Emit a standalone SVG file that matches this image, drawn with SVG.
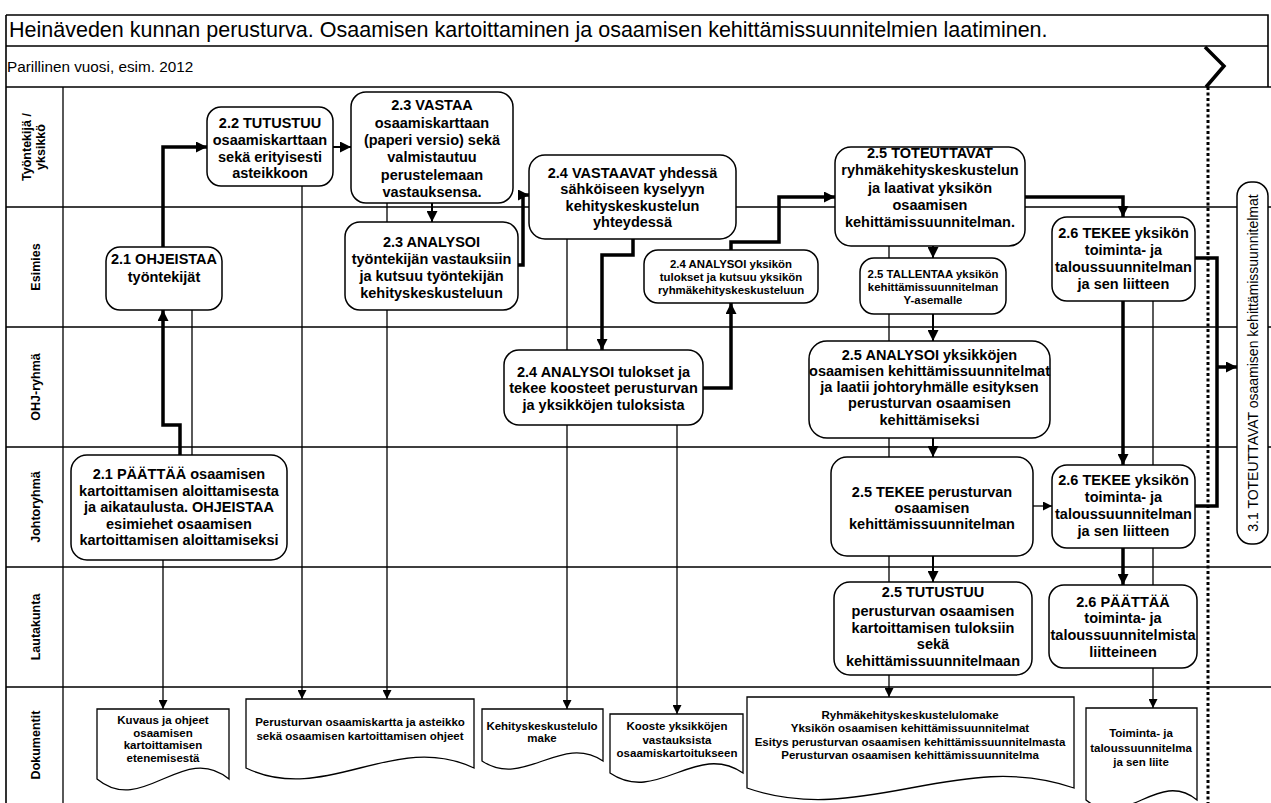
<svg xmlns="http://www.w3.org/2000/svg" width="1271" height="803" viewBox="0 0 1271 803">
<style>
.frame{stroke:#000;stroke-width:1.6;fill:none}
.lane{stroke:#000;stroke-width:1.3;fill:none}
.box{fill:#fff;stroke:#000;stroke-width:1.5}
.doc{fill:#fff;stroke:#000;stroke-width:1.3}
.nt{font-family:"Liberation Sans",Arial,sans-serif;font-weight:bold;font-size:14.5px;text-anchor:middle;fill:#000}
.st{font-size:11.4px}
.dt{font-size:11.5px}
.lbl{font-family:"Liberation Sans",Arial,sans-serif;font-weight:bold;font-size:12.5px;text-anchor:middle;fill:#000}
.hd{font-family:"Liberation Sans",Arial,sans-serif;fill:#000}
.thick{stroke:#000;stroke-width:3.5;fill:none}
.med{stroke:#000;stroke-width:2;fill:none}
.thin{stroke:#000;stroke-width:1.3;fill:none}
</style>
<defs>
<marker id="aT" viewBox="0 0 10 10" refX="10" refY="5" markerWidth="12" markerHeight="11" markerUnits="userSpaceOnUse" orient="auto"><path d="M0,0 L10,5 L0,10 z" fill="#000"/></marker>
<marker id="aS" viewBox="0 0 10 10" refX="10" refY="5" markerWidth="10" markerHeight="9" markerUnits="userSpaceOnUse" orient="auto"><path d="M0,0 L10,5 L0,10 z" fill="#000"/></marker>
</defs>
<rect width="1271" height="803" fill="#fff"/>

<g id="frame">
<path class="frame" d="M6,15 H1268 V87 M6,46 H1268 M6,15 V803"/>
<text class="hd" x="9" y="37" font-size="21.5">Heinäveden kunnan perusturva. Osaamisen kartoittaminen ja osaamisen kehittämissuunnitelmien laatiminen.</text>
<text class="hd" x="7" y="72" font-size="15.3">Parillinen vuosi, esim. 2012</text>
<path class="lane" d="M6,87 H1271 M6,207 H1271 M6,327 H1271 M6,447 H1271 M6,567 H1271 M6,687 H1271 M63,87 V803"/>
<path d="M1205,47 L1224,66 L1206,87" fill="none" stroke="#000" stroke-width="3.5"/>
<line x1="1208" y1="87" x2="1208" y2="803" stroke="#000" stroke-width="3" stroke-dasharray="3 2.5"/>
</g>

<g id="lanes">
<text class="lbl" transform="translate(31,147) rotate(-90)">Työntekijä /</text>
<text class="lbl" transform="translate(45,147) rotate(-90)">yksikkö</text>
<text class="lbl" transform="translate(39.5,267) rotate(-90)">Esimies</text>
<text class="lbl" transform="translate(39.5,387) rotate(-90)">OHJ-ryhmä</text>
<text class="lbl" transform="translate(39.5,507) rotate(-90)">Johtoryhmä</text>
<text class="lbl" transform="translate(39.5,627) rotate(-90)">Lautakunta</text>
<text class="lbl" transform="translate(39.5,745) rotate(-90)">Dokumentit</text>
</g>

<g id="connectors">
<path class="thick" d="M180,455 V425 H163 V310" marker-end="url(#aT)"/>
<path class="thick" d="M163,247 V147 H207" marker-end="url(#aT)"/>
<path class="med" d="M333,147 H351" marker-end="url(#aT)"/>
<path class="med" d="M432,203 V222" marker-end="url(#aT)"/>
<path class="thick" d="M518,265 H523 V195 H529" marker-end="url(#aT)"/>
<path class="thick" d="M633,239 V255 H602 V350" marker-end="url(#aT)"/>
<path class="thick" d="M703,388 H731 V303" marker-end="url(#aT)"/>
<path class="thick" d="M731,250 V242 H779 V197 H835" marker-end="url(#aT)"/>
<path class="thick" d="M1025,197 H1123 V217" marker-end="url(#aT)"/>
<path class="thick" d="M1123,301 V465" marker-end="url(#aT)"/>
<path class="thick" d="M1123,548 V585" marker-end="url(#aT)"/>
<path class="thick" d="M1195,258 H1217 V506 H1195"/>
<path class="thick" d="M1217,367 H1237" marker-end="url(#aT)"/>
<path class="med" d="M933,246 V258" marker-end="url(#aT)"/>
<path class="med" d="M933,314 V341" marker-end="url(#aT)"/>
<path class="med" d="M933,438 V457" marker-end="url(#aT)"/>
<path class="med" d="M933,556 V582" marker-end="url(#aT)"/>
<path class="thin" d="M1033,506 H1052" marker-end="url(#aS)"/>
<path class="thin" d="M163,560 V709" marker-end="url(#aS)"/>
<path class="thin" d="M192,310 V455"/>
<path class="thin" d="M302,186 V699" marker-end="url(#aS)"/>
<path class="thin" d="M387,203 V699" marker-end="url(#aS)"/>
<path class="thin" d="M567,239 V709" marker-end="url(#aS)"/>
<path class="thin" d="M677,425 V714" marker-end="url(#aS)"/>
<path class="thin" d="M889,246 V697" marker-end="url(#aS)"/>
<path class="thin" d="M1153,301 V708" marker-end="url(#aS)"/>
</g>

<g id="n22">
<rect class="box" x="207" y="107" width="126" height="79" rx="14"/>
<text class="nt"><tspan x="270" y="128">2.2 TUTUSTUU</tspan><tspan x="270" y="145">osaamiskarttaan</tspan><tspan x="270" y="162">sekä erityisesti</tspan><tspan x="270" y="178">asteikkoon</tspan></text>
</g>
<g id="n23a">
<rect class="box" x="351" y="92" width="162" height="111" rx="15"/>
<text class="nt"><tspan x="432" y="110">2.3 VASTAA</tspan><tspan x="432" y="128">osaamiskarttaan</tspan><tspan x="432" y="145">(paperi versio) sekä</tspan><tspan x="432" y="162">valmistautuu</tspan><tspan x="432" y="180">perustelemaan</tspan><tspan x="432" y="197">vastauksensa.</tspan></text>
</g>
<g id="n21a">
<rect class="box" x="106" y="247" width="116" height="63" rx="14"/>
<text class="nt"><tspan x="164" y="264">2.1 OHJEISTAA</tspan><tspan x="164" y="282">työntekijät</tspan></text>
</g>
<g id="n23b">
<rect class="box" x="345" y="222" width="173" height="88" rx="15"/>
<text class="nt"><tspan x="431.5" y="247">2.3 ANALYSOI</tspan><tspan x="431.5" y="264">työntekijän vastauksiin</tspan><tspan x="431.5" y="281">ja kutsuu työntekijän</tspan><tspan x="431.5" y="298">kehityskeskusteluun</tspan></text>
</g>
<g id="n21b">
<rect class="box" x="71" y="455" width="216" height="105" rx="16"/>
<text class="nt"><tspan x="179" y="479">2.1 PÄÄTTÄÄ osaamisen</tspan><tspan x="179" y="495.5">kartoittamisen aloittamisesta</tspan><tspan x="179" y="512">ja aikataulusta. OHJEISTAA</tspan><tspan x="179" y="528.5">esimiehet osaamisen</tspan><tspan x="179" y="545">kartoittamisen aloittamiseksi</tspan></text>
</g>
<g id="n24a">
<rect class="box" x="529" y="155" width="207" height="84" rx="16"/>
<text class="nt"><tspan x="632.5" y="178">2.4 VASTAAVAT yhdessä</tspan><tspan x="632.5" y="194">sähköiseen kyselyyn</tspan><tspan x="632.5" y="211">kehityskeskustelun</tspan><tspan x="632.5" y="227">yhteydessä</tspan></text>
</g>
<g id="n24b">
<rect class="box" x="644" y="250" width="174" height="53" rx="14"/>
<text class="nt st"><tspan x="731" y="268">2.4 ANALYSOI yksikön</tspan><tspan x="731" y="281">tulokset ja kutsuu yksikön</tspan><tspan x="731" y="294">ryhmäkehityskeskusteluun</tspan></text>
</g>
<g id="n24c">
<rect class="box" x="504" y="350" width="199" height="75" rx="15"/>
<text class="nt"><tspan x="603.5" y="377">2.4 ANALYSOI tulokset ja</tspan><tspan x="603.5" y="393">tekee koosteet perusturvan</tspan><tspan x="603.5" y="410">ja yksikköjen tuloksista</tspan></text>
</g>
<g id="n25a">
<rect class="box" x="835" y="147" width="190" height="99" rx="16"/>
<text class="nt"><tspan x="930" y="158">2.5 TOTEUTTAVAT</tspan><tspan x="930" y="175">ryhmäkehityskeskustelun</tspan><tspan x="930" y="193">ja laativat yksikön</tspan><tspan x="930" y="210">osaamisen</tspan><tspan x="930" y="227">kehittämissuunnitelman.</tspan></text>
</g>
<g id="n25b">
<rect class="box" x="860" y="258" width="146" height="56" rx="14"/>
<text class="nt st"><tspan x="933" y="278">2.5 TALLENTAA yksikön</tspan><tspan x="933" y="291">kehittämissuunnitelman</tspan><tspan x="933" y="304">Y-asemalle</tspan></text>
</g>
<g id="n25c">
<rect class="box" x="809" y="341" width="241" height="97" rx="18"/>
<text class="nt"><tspan x="929.5" y="360">2.5 ANALYSOI yksikköjen</tspan><tspan x="929.5" y="376">osaamisen kehittämissuunnitelmat</tspan><tspan x="929.5" y="392">ja laatii johtoryhmälle esityksen</tspan><tspan x="929.5" y="408">perusturvan osaamisen</tspan><tspan x="929.5" y="425">kehittämiseksi</tspan></text>
</g>
<g id="n25d">
<rect class="box" x="831" y="457" width="202" height="99" rx="16"/>
<text class="nt"><tspan x="932" y="497">2.5 TEKEE perusturvan</tspan><tspan x="932" y="513">osaamisen</tspan><tspan x="932" y="529">kehittämissuunnitelman</tspan></text>
</g>
<g id="n25e">
<rect class="box" x="834" y="582" width="198" height="93" rx="16"/>
<text class="nt"><tspan x="933" y="597">2.5 TUTUSTUU</tspan><tspan x="933" y="616">perusturvan osaamisen</tspan><tspan x="933" y="633">kartoittamisen tuloksiin</tspan><tspan x="933" y="649">sekä</tspan><tspan x="933" y="666">kehittämissuunnitelmaan</tspan></text>
</g>
<g id="n26a">
<rect class="box" x="1052" y="217" width="143" height="84" rx="15"/>
<text class="nt"><tspan x="1123.5" y="238">2.6 TEKEE yksikön</tspan><tspan x="1123.5" y="255">toiminta- ja</tspan><tspan x="1123.5" y="272">taloussuunnitelman</tspan><tspan x="1123.5" y="289">ja sen liitteen</tspan></text>
</g>
<g id="n26b">
<rect class="box" x="1052" y="465" width="143" height="83" rx="15"/>
<text class="nt"><tspan x="1123.5" y="485">2.6 TEKEE yksikön</tspan><tspan x="1123.5" y="502">toiminta- ja</tspan><tspan x="1123.5" y="519">taloussuunnitelman</tspan><tspan x="1123.5" y="536">ja sen liitteen</tspan></text>
</g>
<g id="n26c">
<rect class="box" x="1049" y="585" width="148" height="83" rx="15"/>
<text class="nt"><tspan x="1123" y="607">2.6 PÄÄTTÄÄ</tspan><tspan x="1123" y="623">toiminta- ja</tspan><tspan x="1123" y="640">taloussuunnitelmista</tspan><tspan x="1123" y="657">liitteineen</tspan></text>
</g>
<g id="n31">
<rect class="box" x="1237" y="182" width="31" height="362" rx="14"/>
<text class="hd" font-size="14" text-anchor="middle" transform="translate(1258,363) rotate(-90)">3.1 TOTEUTTAVAT osaamisen kehittämissuunnitelmat</text>
</g>

<g id="d1">
<path class="doc" d="M97,709 H229 V779 C183,741 143,817 97,779 Z"/>
<text class="nt dt"><tspan x="163" y="724">Kuvaus ja ohjeet</tspan><tspan x="163" y="737">osaamisen</tspan><tspan x="163" y="749">kartoittamisen</tspan><tspan x="163" y="762">etenemisestä</tspan></text>
</g>
<g id="d2">
<path class="doc" d="M246,699 H474 V768 C394,730 326,806 246,768 Z"/>
<text class="nt dt"><tspan x="360" y="726">Perusturvan osaamiskartta ja asteikko</tspan><tspan x="360" y="740">sekä osaamisen kartoittamisen ohjeet</tspan></text>
</g>
<g id="d3">
<path class="doc" d="M482,709 H603 V761 C561,733 524,789 482,761 Z"/>
<text class="nt dt"><tspan x="542" y="730">Kehityskeskustelulo</tspan><tspan x="542" y="742">make</tspan></text>
</g>
<g id="d4">
<path class="doc" d="M610,714 H743 V773 C696,741 657,805 610,773 Z"/>
<text class="nt dt"><tspan x="677" y="730">Kooste yksikköjen</tspan><tspan x="677" y="744">vastauksista</tspan><tspan x="677" y="757">osaamiskartoitukseen</tspan></text>
</g>
<g id="d5">
<path class="doc" d="M747,697 H1074 V788 C960,748 861,828 747,788 Z"/>
<text class="nt dt"><tspan x="910" y="719">Ryhmäkehityskeskustelulomake</tspan><tspan x="910" y="732">Yksikön osaamisen kehittämissuunnitelmat</tspan><tspan x="910" y="746">Esitys perusturvan osaamisen kehittämissuunnitelmasta</tspan><tspan x="910" y="759">Perusturvan osaamisen kehittämissuunnitelma</tspan></text>
</g>
<g id="d6">
<path class="doc" d="M1086,708 H1197 V800 C1158,768 1125,832 1086,800 Z"/>
<text class="nt dt"><tspan x="1141" y="737">Toiminta- ja</tspan><tspan x="1141" y="752">taloussuunnitelma</tspan><tspan x="1141" y="766">ja sen liite</tspan></text>
</g>
</svg>
